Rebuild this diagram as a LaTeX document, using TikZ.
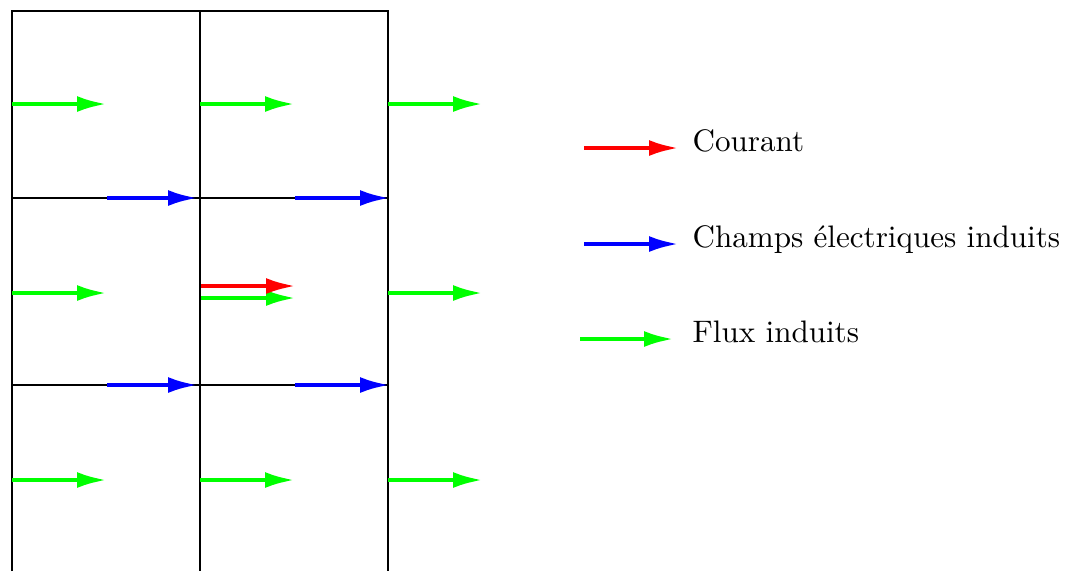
\documentclass[tikz,border=0pt]{standalone}
\usepackage[usenames,dvipsnames]{xcolor}
\usetikzlibrary{arrows.meta}

\tikzset{
  grille/.style={line width=0.65pt},
  fleche/.style={line width=1.4pt,-{Latex[length=9.6pt,width=5.1pt]}},
  legende/.style={anchor=base west,inner sep=0pt}
}

\begin{document}
\begin{tikzpicture}[x=0.0113cm,y=-0.0113cm]
  \useasboundingbox (0,0) rectangle (1076,571);

  % les spires
  \draw[grille] (12,571) -- (12,11) -- (388,11) -- (388,571);
  \draw[grille] (200,11) -- (200,571);
  \draw[grille] (12,198) -- (388,198);
  \draw[grille] (12,385) -- (388,385);

  % flux induits
  \foreach \x in {12,200,388}
    \foreach \y in {104,480} {
      \coordinate (fa-\x-\y) at (\x,\y);
      \coordinate (fb-\x-\y) at (\x+95,\y);
      \draw[fleche,green] (fa-\x-\y) -- (fb-\x-\y);
    }
  \foreach \x in {12,388} {
    \coordinate (fa-\x) at (\x,293);
    \coordinate (fb-\x) at (\x+95,293);
    \draw[fleche,green] (fa-\x) -- (fb-\x);
  }
  \coordinate (fa-mid) at (201,298);
  \coordinate (fb-mid) at (296,298);
  \draw[fleche,green] (fa-mid) -- (fb-mid);

  % courant
  \coordinate (ca) at (201,286);
  \coordinate (cb) at (296,286);
  \draw[fleche,red] (ca) -- (cb);

  % champs electriques induits
  \foreach \y in {198,385} {
    \coordinate (ea-\y) at (107,\y);
    \coordinate (eb-\y) at (198,\y);
    \draw[fleche,blue] (ea-\y) -- (eb-\y);
    \coordinate (ec-\y) at (295,\y);
    \coordinate (ed-\y) at (390,\y);
    \draw[fleche,blue] (ec-\y) -- (ed-\y);
  }

  % legende
  \draw (692,151) node[legende] (courant) {Courant};
  \draw (692,247) node[legende] (champs) {Champs électriques induits};
  \draw (692,342) node[legende] (flux) {Flux induits};
  \coordinate (la-c) at (584,148);
  \coordinate (lb-c) at (679,148);
  \coordinate (la-e) at (584,244);
  \coordinate (lb-e) at (679,244);
  \coordinate (la-f) at (580,339);
  \coordinate (lb-f) at (674,339);
  \draw[fleche,red] (la-c) -- (lb-c);
  \draw[fleche,blue] (la-e) -- (lb-e);
  \draw[fleche,green] (la-f) -- (lb-f);
\end{tikzpicture}
\end{document}
